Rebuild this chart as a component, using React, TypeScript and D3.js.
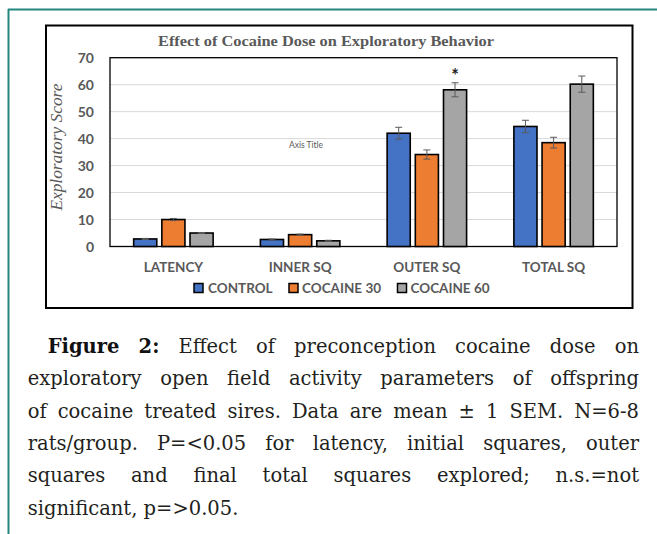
import React from "react";
import * as d3 from "d3";

const categories = ["LATENCY", "INNER SQ", "OUTER SQ", "TOTAL SQ"];
const seriesNames = ["CONTROL", "COCAINE 30", "COCAINE 60"];
const controlValues = [2.8, 2.6, 42.0, 44.5];
const controlSem = [0.2, 0.2, 2.2, 2.3];
const cocaine30Values = [10.0, 4.4, 34.1, 38.5];
const cocaine30Sem = [0.4, 0.2, 1.7, 2.0];
const cocaine60Values = [5.0, 2.1, 58.1, 60.2];
const cocaine60Sem = [0.2, 0.2, 2.6, 3.0];
const seriesColors = ["#4472c4", "#ed7d31", "#a5a5a5"];
const yTicks = [0, 10, 20, 30, 40, 50, 60, 70];
const chartTitle = "Effect of Cocaine Dose on Exploratory Behavior";
const yAxisTitle = "Exploratory Score";
const starMarks = [{ category: "OUTER SQ", series: "COCAINE 60", text: "*" }];

const captionLines: { text: string; bold?: boolean }[][] = [
  [{ text: "Figure", bold: true }, { text: "2:", bold: true }, { text: "Effect" }, { text: "of" }, { text: "preconception" }, { text: "cocaine" }, { text: "dose" }, { text: "on" }],
  "exploratory open field activity parameters of offspring".split(" ").map((t) => ({ text: t })),
  "of cocaine treated sires. Data are mean ± 1 SEM. N=6-8".split(" ").map((t) => ({ text: t })),
  "rats/group. P=<0.05 for latency, initial squares, outer".split(" ").map((t) => ({ text: t })),
  "squares and final total squares explored; n.s.=not".split(" ").map((t) => ({ text: t })),
  "significant, p=>0.05.".split(" ").map((t) => ({ text: t })),
];

const seriesValues = [controlValues, cocaine30Values, cocaine60Values];
const seriesSem = [controlSem, cocaine30Sem, cocaine60Sem];

let measureCtx: CanvasRenderingContext2D | null = null;
function measure(text: string, font: string): number {
  if (!measureCtx) {
    const c = document.createElement("canvas");
    measureCtx = c.getContext("2d");
  }
  measureCtx!.font = font;
  return measureCtx!.measureText(text).width;
}

export default function App() {
  const W = 657;
  const H = 534;
  const plot = { left: 110, right: 617, top: 57.7, bottom: 246.5 };
  const y = d3.scaleLinear().domain([0, 70]).range([plot.bottom, plot.top]);
  const x0 = d3
    .scaleBand<string>()
    .domain(categories)
    .range([plot.left, plot.right])
    .paddingInner(0.333)
    .paddingOuter(0.1667);
  const x1 = d3
    .scaleBand<string>()
    .domain(seriesNames)
    .range([0, x0.bandwidth()])
    .paddingInner(0.18)
    .paddingOuter(0.09);

  const gray = "#595959";
  const sansFont = "Lato, 'Open Sans', sans-serif";
  const capFontSize = 19.5;
  const capFamily = "'DejaVu Serif', serif";
  const capRight = 639;
  const lineBase0 = 353;
  const lineGap = 32.3;

  const captionEls: React.ReactNode[] = [];
  captionLines.forEach((tokens, li) => {
    const startX = li === 0 ? 47.7 : 27.7;
    const widths = tokens.map((t) =>
      measure(t.text, `${t.bold ? "bold " : ""}${capFontSize}px ${capFamily}`)
    );
    const total = widths.reduce((a, b) => a + b, 0);
    const isLast = li === captionLines.length - 1;
    const spaceW = measure(" ", `${capFontSize}px ${capFamily}`);
    const gap = isLast ? spaceW : (capRight - startX - total) / (tokens.length - 1);
    let cx = startX;
    tokens.forEach((t, ti) => {
      captionEls.push(
        <text
          key={`c${li}-${ti}`}
          x={cx}
          y={lineBase0 + li * lineGap}
          fontFamily={capFamily}
          fontSize={capFontSize}
          fontWeight={t.bold ? "bold" : "normal"}
          fill={t.bold ? "#111" : "#231f20"}
        >
          {t.text}
        </text>
      );
      cx += widths[ti] + gap;
    });
  });

  const legendItems = [
    { sq: 194, tx: 208 },
    { sq: 289, tx: 302 },
    { sq: 397.5, tx: 410.5 },
  ];

  return (
    <svg
      width={W}
      height={H}
      style={{ position: "absolute", left: 0, top: 0, background: "#fff" }}
    >
      <rect x={0} y={0} width={W} height={H} fill="#fff" />
      {/* teal frame */}
      <line x1={8} x2={W} y1={9.5} y2={9.5} stroke="#24877f" strokeWidth={2} />
      <line x1={8.5} x2={8.5} y1={9} y2={H} stroke="#24877f" strokeWidth={2} />

      {/* chart box */}
      <rect x={46} y={25.5} width={586.5} height={282.5} fill="#fff" stroke="#000" strokeWidth={2} />

      {/* title */}
      <text
        x={326}
        y={45.5}
        textAnchor="middle"
        fontFamily="'Liberation Serif', serif"
        fontWeight="bold"
        fontSize={14.5}
        fill={gray}
        textLength={336}
        lengthAdjust="spacingAndGlyphs"
      >
        {chartTitle}
      </text>

      {/* gridlines */}
      {yTicks.slice(1, -1).map((t) => (
        <line key={`g${t}`} x1={plot.left} x2={plot.right} y1={y(t)} y2={y(t)} stroke="#d9d9d9" strokeWidth={1} />
      ))}

      {/* plot frame */}
      <rect
        x={plot.left}
        y={plot.top}
        width={plot.right - plot.left}
        height={plot.bottom - plot.top}
        fill="none"
        stroke="#000"
        strokeWidth={1.3}
      />

      {/* y tick labels */}
      {yTicks.map((t) => (
        <text
          key={`yt${t}`}
          x={94}
          y={y(t)}
          dy="0.36em"
          textAnchor="end"
          fontFamily={sansFont}
          fontWeight="bold"
          fontSize={14}
          fill={gray}
        >
          {t}
        </text>
      ))}

      {/* y axis title */}
      <text
        transform={`translate(62,${(plot.top + plot.bottom) / 2 - 5}) rotate(-90)`}
        textAnchor="middle"
        fontFamily="'Liberation Serif', serif"
        fontStyle="italic"
        fontSize={16}
        fill={gray}
        textLength={127}
        lengthAdjust="spacingAndGlyphs"
      >
        {yAxisTitle}
      </text>

      {/* Axis Title placeholder */}
      <text x={306} y={148} textAnchor="middle" fontFamily={sansFont} fontSize={8.5} fill={gray}>
        Axis Title
      </text>

      {/* bars */}
      {categories.map((cat, ci) =>
        seriesNames.map((s, si) => {
          const bx = (x0(cat) ?? 0) + (x1(s) ?? 0);
          const bw = x1.bandwidth();
          const v = seriesValues[si][ci];
          const e = seriesSem[si][ci];
          const cxm = bx + bw / 2;
          return (
            <g key={`b${ci}-${si}`}>
              <rect
                x={bx}
                y={y(v)}
                width={bw}
                height={y(0) - y(v)}
                fill={seriesColors[si]}
                stroke="#000"
                strokeWidth={1.6}
              />
              <line x1={cxm} x2={cxm} y1={y(v + e)} y2={y(v - e)} stroke={gray} strokeWidth={1} />
              <line x1={cxm - 3.5} x2={cxm + 3.5} y1={y(v + e)} y2={y(v + e)} stroke={gray} strokeWidth={1} />
              <line x1={cxm - 3.5} x2={cxm + 3.5} y1={y(v - e)} y2={y(v - e)} stroke={gray} strokeWidth={1} />
            </g>
          );
        })
      )}

      {/* significance marks */}
      {starMarks.map((m, i) => {
        const ci = categories.indexOf(m.category);
        const si = seriesNames.indexOf(m.series);
        const cxm = (x0(m.category) ?? 0) + (x1(m.series) ?? 0) + x1.bandwidth() / 2;
        const top = seriesValues[si][ci] + seriesSem[si][ci];
        return (
          <text key={`st${i}`} x={cxm} y={y(top) - 1} textAnchor="middle" fontFamily={sansFont} fontWeight="bold" fontSize={18} fill="#222">
            {m.text}
          </text>
        );
      })}

      {/* category labels */}
      {categories.map((cat) => (
        <text
          key={`cl${cat}`}
          x={(x0(cat) ?? 0) + x0.bandwidth() / 2}
          y={267.5}
          dy="0.36em"
          textAnchor="middle"
          fontFamily={sansFont}
          fontWeight="bold"
          fontSize={13.5}
          fill={gray}
        >
          {cat}
        </text>
      ))}

      {/* legend */}
      {seriesNames.map((s, si) => (
        <g key={`lg${s}`}>
          <rect x={legendItems[si].sq} y={283.5} width={9} height={9} fill={seriesColors[si]} stroke="#000" strokeWidth={1.5} />
          <text
            x={legendItems[si].tx}
            y={288.3}
            dy="0.36em"
            fontFamily={sansFont}
            fontWeight="bold"
            fontSize={13.5}
            fill={gray}
          >
            {s}
          </text>
        </g>
      ))}

      {captionEls}
    </svg>
  );
}
